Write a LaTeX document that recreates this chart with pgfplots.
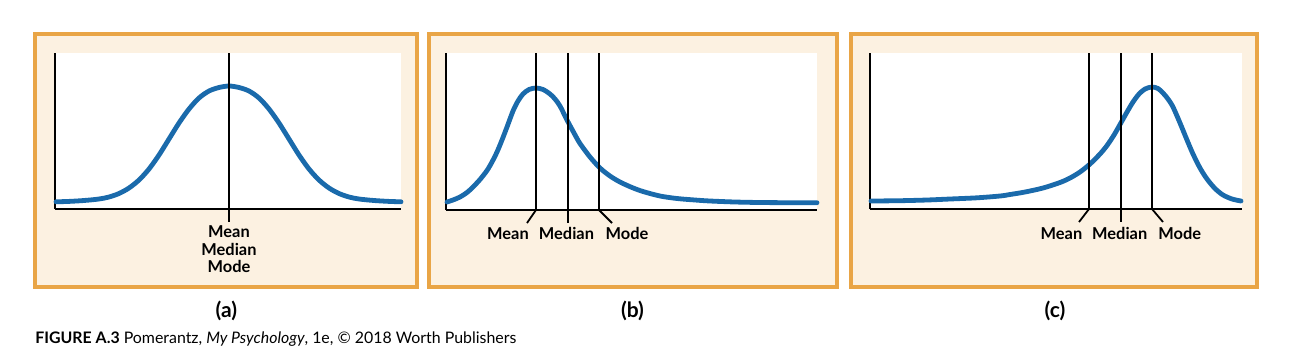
\documentclass[border=0pt]{standalone}
\usepackage{pgfplots}
\pgfplotsset{compat=1.18}
\usepackage{fontspec}
\setmainfont{Lato}
\definecolor{orangeB}{HTML}{E9A546}
\definecolor{beige}{HTML}{FCF1E1}
\definecolor{curveblue}{HTML}{1A6AAB}
\pgfplotsset{panel/.style={scale only axis, axis lines=left,
  axis line style={-, line width=1.15pt, black}, ticks=none, clip=false,
  axis background/.style={fill=white}, anchor=south west},
  curve/.style={curveblue, line width=2.4pt, smooth, line join=round, line cap=round, no marks},
  vline/.style={black, line width=0.9pt, no marks}}
\tikzset{lbl/.style={font=\fontsize{8.2}{9.6}\selectfont\bfseries, inner sep=0pt}}
\begin{document}
\begin{tikzpicture}
\fill[white] (0,0) rectangle (647.5pt,-177.5pt);
\path[use as bounding box] (0,0) rectangle (647.5pt,-177.5pt);
% panels
\fill[beige] (17.65pt,-16.85pt) rectangle (208.5pt,-143.5pt);
\draw[orangeB, line width=2pt] (17.65pt,-16.85pt) rectangle (208.5pt,-143.5pt);
\fill[beige] (214.35pt,-16.85pt) rectangle (418.5pt,-143.5pt);
\draw[orangeB, line width=2pt] (214.35pt,-16.85pt) rectangle (418.5pt,-143.5pt);
\fill[beige] (425.65pt,-16.85pt) rectangle (628.5pt,-143.5pt);
\draw[orangeB, line width=2pt] (425.65pt,-16.85pt) rectangle (628.5pt,-143.5pt);

% (a)
\begin{axis}[panel, at={(27.5pt,-104.5pt)}, width=173pt, height=78pt,
  xmin=55, xmax=401, ymin=0, ymax=156]
\addplot[curve] coordinates {
(56,7.2) (69,7.6) (84,8.5) (99,10) (109,12) (119,15.5) (129,21) (139,29)
(149,40) (159,54) (169,70) (179,86) (189,100) (199,111) (209,118) (219,121.5)
(229,123) (239,121.5) (249,118) (259,111) (269,100) (279,86) (289,70) (299,54)
(309,40) (319,29) (329,21) (339,15.5) (349,12) (359,10) (374,8.5) (389,7.6) (401,7.2)};
\addplot[vline] coordinates {(229,156) (229,-13)};
\node[lbl] at (axis cs:229,-22.7) {Mean};
\node[lbl] at (axis cs:229,-40) {Median};
\node[lbl] at (axis cs:229,-57.7) {Mode};
\end{axis}

% (b)
\begin{axis}[panel, at={(223pt,-105pt)}, width=185.5pt, height=78.5pt,
  xmin=446, xmax=817, ymin=0, ymax=157]
\addplot[curve] coordinates {
(447,8) (453,10) (460,13) (467,17.5) (473,23) (480,30.5) (487,39.5) (492,48)
(497,58) (502,70) (507,83) (513,99) (518,109) (523,116) (529,120.5) (536,122)
(543,120.5) (550,116) (555,111) (560,104) (567,90) (574,77) (580,66.5) (590,53)
(600,42) (610,34) (620,28) (632,22.5) (643,18.5) (660,14) (677,11.5) (695,10)
(710,9) (735,8) (760,7.5) (790,7.3) (817,7.3)};
\addplot[vline] coordinates {(536,157) (536,0) (527,-13)};
\addplot[vline] coordinates {(568,157) (568,-13)};
\addplot[vline] coordinates {(599,157) (599,0) (612,-13)};
\node[lbl] at (axis cs:508,-23.3) {Mean};
\node[lbl] at (axis cs:566.5,-23.3) {Median};
\node[lbl] at (axis cs:627,-23.3) {Mode};
\end{axis}

% (c)
\begin{axis}[panel, at={(435pt,-104.5pt)}, width=186pt, height=78pt,
  xmin=870, xmax=1242, ymin=0, ymax=156]
\addplot[curve] coordinates {
(871,8) (900,8.3) (927,9) (950,10) (977,11.2) (1000,13) (1010,14.5) (1025,17)
(1043,21) (1060,26.5) (1070,31) (1080,37) (1090,45) (1100,55) (1107,63.5) (1114,74)
(1120,84.5) (1127,97) (1133,107) (1139,115) (1145,120) (1152,122) (1158,120.5)
(1163,116) (1168,110) (1173,102) (1180,86) (1187,69) (1193,55) (1200,41)
(1207,30) (1215,20.5) (1223,14) (1232,10) (1241,8)};
\addplot[vline] coordinates {(1089,156) (1089,0) (1079,-13)};
\addplot[vline] coordinates {(1121,156) (1121,-13)};
\addplot[vline] coordinates {(1152,156) (1152,0) (1163,-13)};
\node[lbl] at (axis cs:1061.5,-24.3) {Mean};
\node[lbl] at (axis cs:1119.7,-24.3) {Median};
\node[lbl] at (axis cs:1179.7,-24.3) {Mode};
\end{axis}

% subcaptions
\node[font=\fontsize{10.5}{12}\selectfont\bfseries, inner sep=0pt] at (113.2pt,-155.25pt) {(a)};
\node[font=\fontsize{10.5}{12}\selectfont\bfseries, inner sep=0pt] at (316.25pt,-155.25pt) {(b)};
\node[font=\fontsize{10.5}{12}\selectfont\bfseries, inner sep=0pt] at (527.5pt,-155.25pt) {(c)};
% caption
\node[anchor=west, inner sep=0pt, font=\fontsize{7.95}{9}\selectfont] at (17.5pt,-169.5pt)
  {\textbf{FIGURE A.3} Pomerantz, \textit{My Psychology}, 1e, © 2018 Worth Publishers};
\end{tikzpicture}
\end{document}
